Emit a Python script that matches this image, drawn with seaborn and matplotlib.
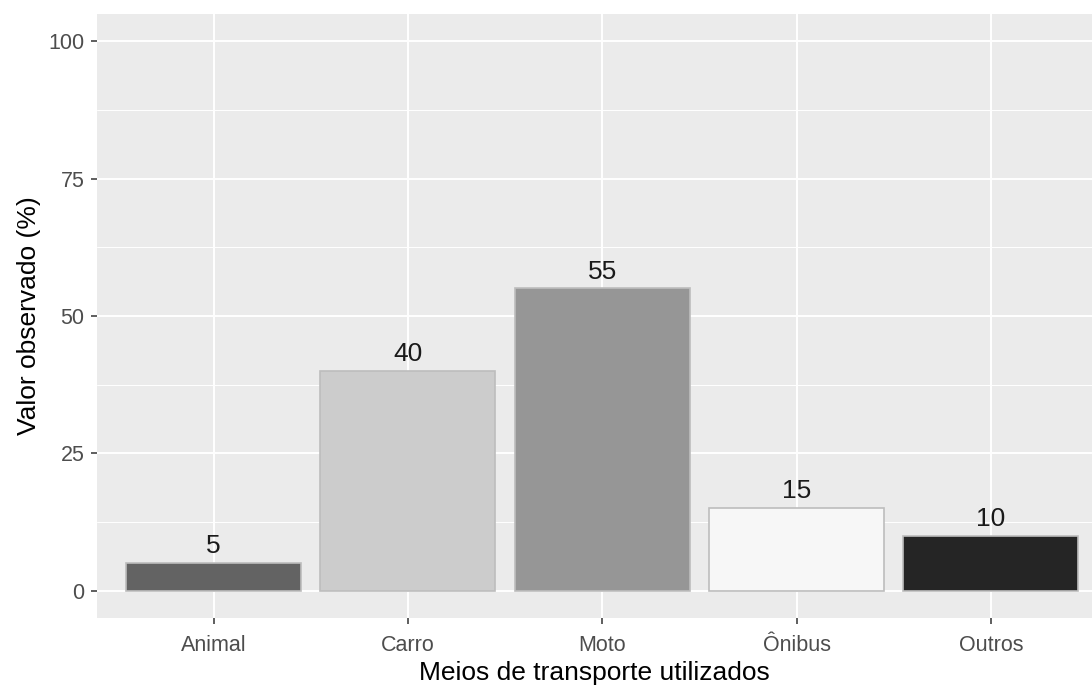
import numpy as np
import pandas as pd
import matplotlib.pyplot as plt
import seaborn as sns
from matplotlib.ticker import MultipleLocator

# data
categorias = ["Animal", "Carro", "Moto", "Ônibus", "Outros"]
valores = [5, 40, 55, 15, 10]
cores = ["#636363", "#cccccc", "#969696", "#f7f7f7", "#252525"]

df = pd.DataFrame({"meio": categorias, "valor": valores})

sns.set_theme(style="darkgrid", rc={
    "axes.facecolor": "#ebebeb",
    "grid.color": "white",
    "axes.edgecolor": "#ebebeb",
})
plt.rcParams["font.family"] = ["Liberation Sans", "DejaVu Sans"]

fig = plt.figure(figsize=(10.92, 6.89), dpi=100)
ax = fig.add_axes([0.0888, 0.103, 0.9112, 0.877])

sns.barplot(data=df, x="meio", y="valor", hue="meio", palette=cores,
            legend=False, width=0.9, edgecolor="#bdbdbd", linewidth=1.2,
            ax=ax, zorder=3)

# rótulos de valor acima das barras
for i, v in enumerate(valores):
    ax.annotate(f"{v}", (i, v), xytext=(0, 3.5), textcoords="offset points",
                ha="center", va="bottom", fontsize=19, color="#1a1a1a")

ax.set_ylim(-5, 105)
ax.set_xlim(-0.6, 4.52)
ax.yaxis.set_major_locator(MultipleLocator(25))
ax.yaxis.set_minor_locator(MultipleLocator(12.5))
ax.grid(True, which="major", color="white", linewidth=1.4)
ax.grid(True, which="minor", axis="y", color="white", linewidth=0.7)
ax.set_axisbelow(True)
for s in ax.spines.values():
    s.set_visible(False)

ax.tick_params(axis="both", which="major", length=4, width=1.1, color="#333333",
               labelsize=15.5, labelcolor="#4d4d4d")
ax.tick_params(axis="x", pad=8, bottom=True)
ax.tick_params(axis="y", pad=5, left=True)
ax.tick_params(axis="both", which="minor", length=0)

ax.set_xlabel("Meios de transporte utilizados", fontsize=19, color="black", labelpad=4)
ax.set_ylabel("Valor observado (%)", fontsize=19, color="black", labelpad=5)

plt.savefig("out.png", dpi=100)
plt.close()
